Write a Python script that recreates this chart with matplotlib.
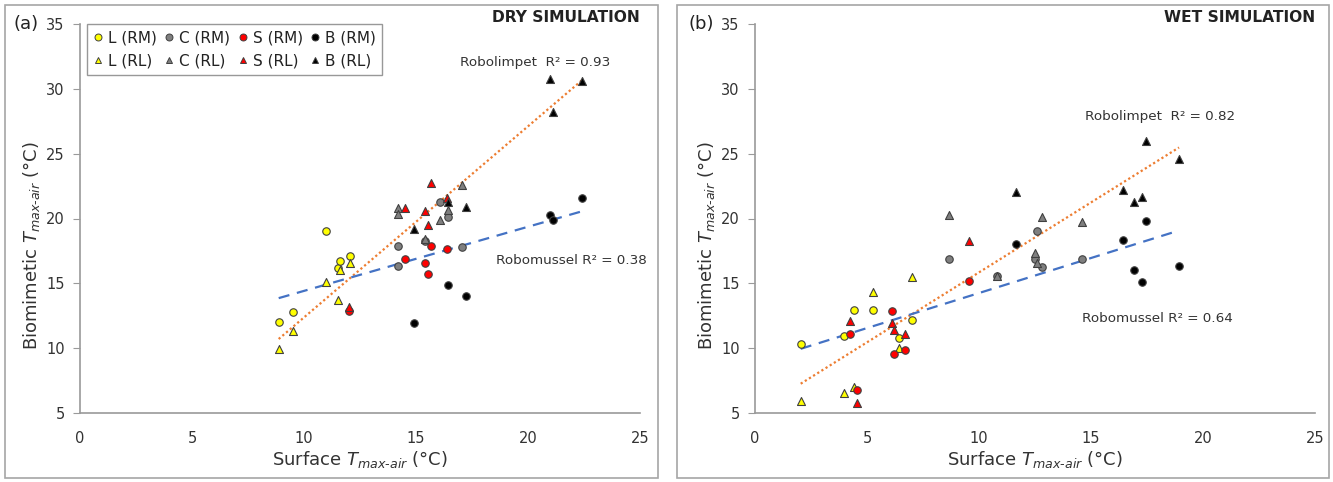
import numpy as np
import matplotlib
matplotlib.use("Agg")
import matplotlib.pyplot as plt
from matplotlib.lines import Line2D
from matplotlib.patches import Rectangle

# surface T (x) for each zone, shared by robomussel (RM) and robolimpet (RL)
# ---- dry simulation ----
dry_L_x = [8.87, 9.5, 11.0, 11.5, 11.6, 12.05]
dry_L_rm = [12.0, 12.8, 19.0, 16.2, 16.7, 17.1]
dry_L_rl = [9.9, 11.3, 15.1, 13.7, 16.0, 16.6]

dry_C_x = [14.21, 14.21, 15.39, 16.07, 16.44, 17.05]
dry_C_rm = [17.88, 16.36, 18.26, 21.27, 20.14, 17.77]
dry_C_rl = [20.78, 20.32, 18.4, 19.88, 20.65, 22.55]

dry_S_x = [12.0, 14.52, 15.39, 15.55, 15.67, 16.37]
dry_S_rm = [12.9, 16.9, 16.59, 15.74, 17.88, 17.62]
dry_S_rl = [13.15, 20.78, 20.58, 19.52, 22.76, 21.58]

dry_B_x = [14.93, 16.44, 17.23, 20.97, 21.13, 22.4]
dry_B_rm = [11.96, 14.84, 14.0, 20.27, 19.88, 21.55]
dry_B_rl = [19.16, 21.27, 20.9, 30.78, 28.23, 30.62]

# ---- wet simulation ----
wet_L_x = [2.04, 3.96, 4.42, 5.28, 6.44, 7.01]
wet_L_rm = [10.34, 10.94, 12.92, 12.92, 10.78, 12.15]
wet_L_rl = [5.93, 6.52, 7.03, 14.33, 10.03, 15.51]

wet_C_x = [8.67, 10.82, 12.49, 12.6, 12.81, 14.58]
wet_C_rm = [16.85, 15.59, 16.85, 19.06, 16.26, 16.85]
wet_C_rl = [20.27, 15.59, 17.36, 16.54, 20.09, 19.7]

wet_S_x = [4.24, 4.57, 6.13, 6.19, 6.7, 9.55]
wet_S_rm = [11.07, 6.77, 12.84, 9.57, 9.86, 15.15]
wet_S_rl = [12.12, 5.75, 11.92, 11.4, 11.07, 18.29]

wet_B_x = [11.64, 16.41, 16.9, 17.28, 17.47, 18.93]
wet_B_rm = [18.03, 18.34, 16.05, 15.12, 19.83, 16.33]
wet_B_rl = [22.04, 22.19, 21.29, 21.65, 25.97, 24.58]

zones = ["L", "C", "S", "B"]
zone_colors = ["#FFFF00", "#7F7F7F", "#FF0000", "#000000"]

dry_r2 = ["0.93", "0.38"]   # robolimpet, robomussel
wet_r2 = ["0.82", "0.64"]

dry = {"L": (dry_L_x, dry_L_rm, dry_L_rl), "C": (dry_C_x, dry_C_rm, dry_C_rl),
       "S": (dry_S_x, dry_S_rm, dry_S_rl), "B": (dry_B_x, dry_B_rm, dry_B_rl)}
wet = {"L": (wet_L_x, wet_L_rm, wet_L_rl), "C": (wet_C_x, wet_C_rm, wet_C_rl),
       "S": (wet_S_x, wet_S_rm, wet_S_rl), "B": (wet_B_x, wet_B_rm, wet_B_rl)}

W, H = 1333, 482
fig = plt.figure(figsize=(W / 100, H / 100), dpi=100)
plt.rcParams["font.family"] = "DejaVu Sans"

axis_grey = "#9A9A9A"
edge = "#404040"
txt = "#333333"


def draw_panel(ax, data, r2, title, letter, lim_txt, mus_txt):
    allx, ally_rm, ally_rl = [], [], []
    for z, c in zip(zones, zone_colors):
        x, rm, rl = data[z]
        ax.scatter(x, rm, s=29, marker="o", c=c, edgecolors=edge, linewidths=0.8, zorder=3)
        ax.scatter(x, rl, s=33, marker="^", c=c, edgecolors=edge, linewidths=0.8, zorder=3)
        allx += x
        ally_rm += rm
        ally_rl += rl

    # linear trendlines
    for ys, col, ls in [(ally_rl, "#ED7D31", (0, (1, 1.2))),
                        (ally_rm, "#4472C4", (0, (5, 3.5)))]:
        k, b = np.polyfit(allx, ys, 1)
        xx = np.array([min(allx), max(allx)])
        ax.plot(xx, k * xx + b, color=col, linestyle=ls, linewidth=1.6, zorder=2)

    ax.set_xlim(0, 25)
    ax.set_ylim(5, 35)
    ax.set_xticks(range(0, 26, 5))
    ax.set_yticks(range(5, 36, 5))
    for s in ["top", "right"]:
        ax.spines[s].set_visible(False)
    for s in ["left", "bottom"]:
        ax.spines[s].set_color(axis_grey)
        ax.spines[s].set_linewidth(1.2)
    ax.tick_params(axis="y", length=5, labelsize=10.5, pad=6, colors=txt)
    ax.tick_params(axis="y", color=axis_grey)
    ax.tick_params(axis="x", length=0, labelsize=10.5, pad=13, colors=txt)
    ax.set_xlabel(r"Surface $T_{max\text{-}air}$ (°C)", fontsize=13, color=txt)
    ax.set_ylabel(r"Biomimetic $T_{max\text{-}air}$ (°C)", fontsize=13, color=txt)
    ax.xaxis.set_label_coords(0.5, -0.093)
    ax.yaxis.set_label_coords(-0.068, 0.43)

    ax.text(1.0, 1.0 + 6 / 389, title, transform=ax.transAxes, ha="right", va="center",
            fontsize=11.2, fontweight="bold", color="#222222")
    ax.text(lim_txt[0], lim_txt[1], "Robolimpet  R² = " + r2[0], fontsize=9.7,
            color=txt, ha="left", va="center")
    ax.text(mus_txt[0], mus_txt[1], "Robomussel R² = " + r2[1], fontsize=9.7,
            color=txt, ha="left", va="center")
    fig.text(ax.get_position().x0 - 0.05, ax.get_position().y1, letter,
             fontsize=13, color="#222222", ha="left", va="center")


ax1 = fig.add_axes([80 / W, 1 - 413 / H, 560 / W, 389 / H])
ax2 = fig.add_axes([755 / W, 1 - 413 / H, 560 / W, 389 / H])

draw_panel(ax1, dry, dry_r2, "DRY SIMULATION", "(a)", (16.95, 32.05), (18.55, 16.75))
draw_panel(ax2, wet, wet_r2, "WET SIMULATION", "(b)", (14.75, 27.9), (14.6, 12.25))

# legend (left panel only)
handles = []
labels = []
for z, c in zip(zones, zone_colors):
    handles.append(Line2D([], [], marker="o", linestyle="none", markerfacecolor=c,
                          markeredgecolor=edge, markeredgewidth=0.7, markersize=5))
    labels.append(z + " (RM)")
    handles.append(Line2D([], [], marker="^", linestyle="none", markerfacecolor=c,
                          markeredgecolor=edge, markeredgewidth=0.7, markersize=5))
    labels.append(z + " (RL)")
leg = ax1.legend(handles, labels, ncol=4, loc="upper left",
                 bbox_to_anchor=(87 / W, 1 - 24 / H), bbox_transform=fig.transFigure,
                 fontsize=11, frameon=True, fancybox=False, handlelength=0.7,
                 handletextpad=0.3, columnspacing=0.45, labelspacing=0.55,
                 borderpad=0.4, borderaxespad=0)
leg.get_frame().set_edgecolor("#7F7F7F")
leg.get_frame().set_linewidth(1.0)
for t in leg.get_texts():
    t.set_color("#222222")

# panel borders
for x0, x1 in [(5, 658), (677, 1329)]:
    fig.patches.append(Rectangle((x0 / W, 4 / H), (x1 - x0) / W, (H - 9) / H,
                                 transform=fig.transFigure, fill=False,
                                 edgecolor="#A6A6A6", linewidth=1.2))

fig.savefig("out.png", dpi=100)
